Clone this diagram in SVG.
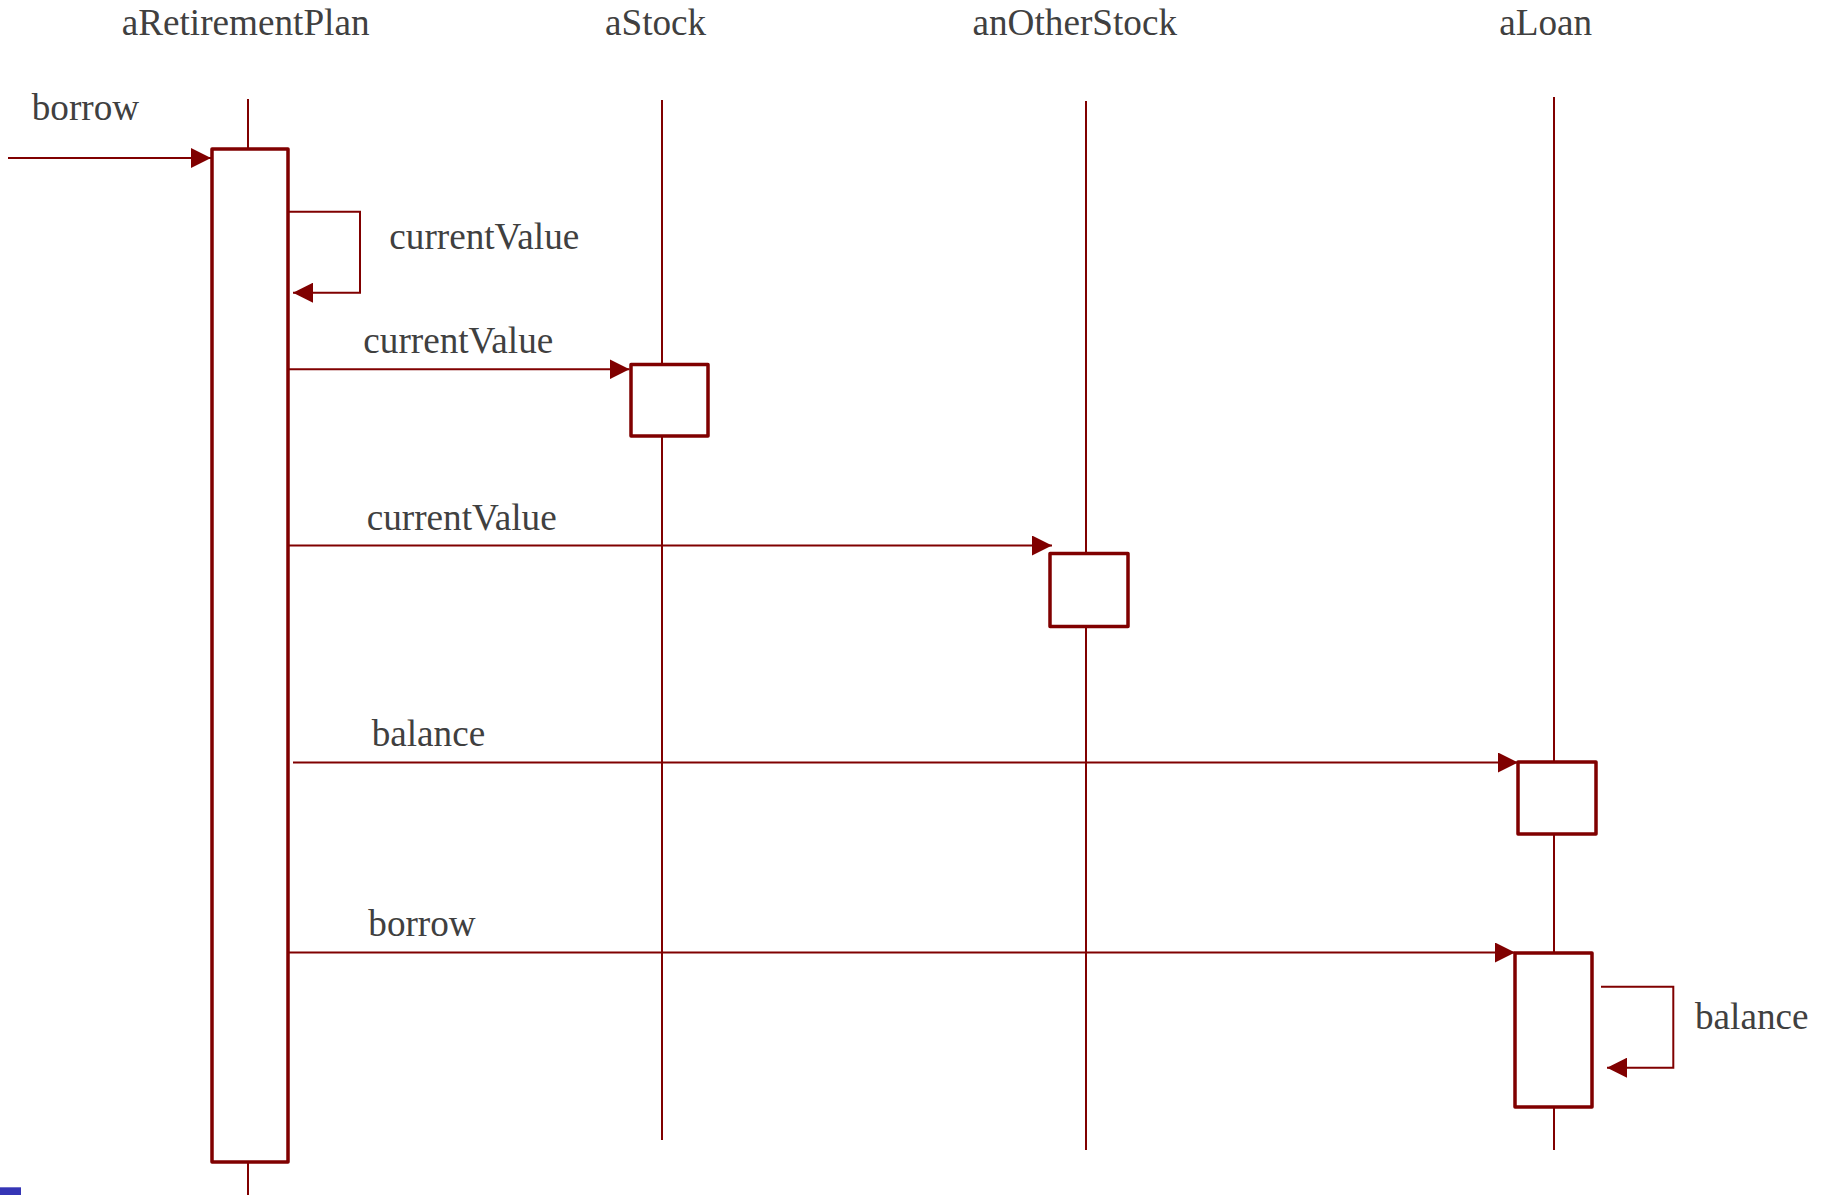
<svg xmlns="http://www.w3.org/2000/svg" width="1827" height="1195" viewBox="0 0 1827 1195">
<style>
  .lbl { font-family: "Liberation Serif", "Times New Roman", serif; font-size: 37.2px; fill: #404040; }
  .life { stroke: #800000; stroke-width: 2; fill: none; }
  .act { stroke: #800000; stroke-width: 3.5; fill: #ffffff; stroke-linejoin: round; }
  .msg { stroke: #800000; stroke-width: 2; fill: none; }
</style>
<defs>
  <marker id="arr" markerWidth="20" markerHeight="20" viewBox="0 0 20 20" refX="20" refY="10" orient="auto" markerUnits="userSpaceOnUse">
    <path d="M0,0 L20,10 L0,20 Z" fill="#800000"/>
  </marker>
</defs>
<rect x="0" y="0" width="1827" height="1195" fill="#ffffff"/>

<g id="aRetirementPlan">
  <text class="lbl" x="121.7" y="35">aRetirementPlan</text>
  <line class="life" x1="248" y1="99" x2="248" y2="1195"/>
  <rect class="act" x="212" y="149" width="76" height="1013"/>
</g>
<g id="aStock">
  <text class="lbl" x="605" y="35">aStock</text>
  <line class="life" x1="662" y1="100" x2="662" y2="1140"/>
  <rect class="act" x="631" y="364.5" width="77" height="71.5"/>
</g>
<g id="anOtherStock">
  <text class="lbl" x="972.5" y="35">anOtherStock</text>
  <line class="life" x1="1086" y1="101" x2="1086" y2="1150"/>
  <rect class="act" x="1050" y="553.5" width="78" height="73"/>
</g>
<g id="aLoan">
  <text class="lbl" x="1499.3" y="35">aLoan</text>
  <line class="life" x1="1554" y1="97" x2="1554" y2="1150"/>
  <rect class="act" x="1518" y="762" width="78" height="72"/>
  <rect class="act" x="1515" y="953" width="77" height="154"/>
</g>

<g id="connectors">
  <line class="msg" x1="8" y1="158" x2="211" y2="158" marker-end="url(#arr)"/>
  <text class="lbl" x="31.7" y="120">borrow</text>

  <polyline class="msg" points="289,211.7 360,211.7 360,292.7 293,292.7" marker-end="url(#arr)"/>
  <text class="lbl" x="389.3" y="249">currentValue</text>

  <line class="msg" x1="289" y1="369.3" x2="629.5" y2="369.3" marker-end="url(#arr)"/>
  <text class="lbl" x="363.3" y="352.7">currentValue</text>

  <line class="msg" x1="289" y1="545.5" x2="1052" y2="545.5" marker-end="url(#arr)"/>
  <text class="lbl" x="366.7" y="530">currentValue</text>

  <line class="msg" x1="293" y1="762.5" x2="1518" y2="762.5" marker-end="url(#arr)"/>
  <text class="lbl" x="371.7" y="746">balance</text>

  <line class="msg" x1="289" y1="952.5" x2="1515" y2="952.5" marker-end="url(#arr)"/>
  <text class="lbl" x="368.3" y="936">borrow</text>

  <polyline class="msg" points="1601,986.7 1673.3,986.7 1673.3,1067.7 1607,1067.7" marker-end="url(#arr)"/>
  <text class="lbl" x="1695" y="1029">balance</text>
</g>

<rect x="0" y="1187.3" width="21" height="7.7" fill="#3535b5"/>
</svg>
